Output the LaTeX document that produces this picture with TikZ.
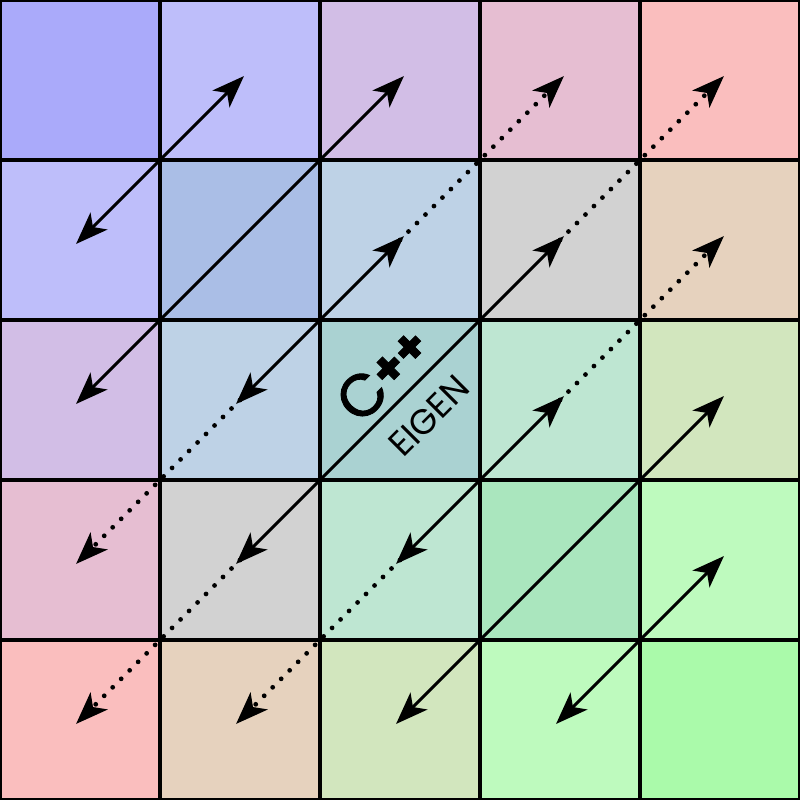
\documentclass[tikz,border=0pt]{standalone}
\usepackage{fontspec}
\usetikzlibrary{arrows.meta}
\newfontfamily\cppfont[FakeBold=1.6]{Poppins}
\newfontfamily\eigfont{Poppins}
\tikzset{
  cell/.style={draw=black, line width=1.7pt, minimum size=2cm, inner sep=0pt, outer sep=0pt},
  tipa/.tip={Stealth[length=11.5pt,width=8.5pt,inset=3pt]},
  dbl/.style={line width=1.1pt, tipa-tipa, shorten <=-0.07cm, shorten >=-0.07cm},
  dotline/.style={line width=1.7pt, line cap=round, dash pattern=on 0pt off 0.15cm, -tipa, shorten >=-0.07cm},
  lbl/.style={rotate=45, inner sep=0pt, text=black}
}
\begin{document}
\begin{tikzpicture}[x=0.0125cm, y=-0.0125cm]
\useasboundingbox (0,0) rectangle (800,800);
\foreach \i in {0,...,4}{
  \foreach \j in {0,...,4}{
    \pgfmathtruncatemacro\a{min(\i,\j)}
    \pgfmathtruncatemacro\b{max(\i,\j)}
    \pgfmathtruncatemacro\R{\a==\b ? 170 : 170+20*(\b-\a)}
    \pgfmathtruncatemacro\G{\a==\b ? 170+20*\a : 190+20*\a}
    \pgfmathtruncatemacro\B{\a==\b ? 250-20*\a : 270-20*\b}
    \definecolor{cc}{RGB}{\R,\G,\B}
    \node[cell, fill=cc] (c-\i-\j) at (80+160*\i, 80+160*\j) {};
  }
}
% solid double arrows
\draw[dbl] (c-0-1.center) -- (c-1-0.center);
\draw[dbl] (c-0-2.center) -- (c-2-0.center);
\draw[dbl] (c-1-2.center) -- (c-2-1.center);
\draw[dbl] (c-1-3.center) -- (c-3-1.center);
\draw[dbl] (c-2-3.center) -- (c-3-2.center);
\draw[dbl] (c-2-4.center) -- (c-4-2.center);
\draw[dbl] (c-3-4.center) -- (c-4-3.center);
% dotted arrows
\draw[dotline] (c-1-2.center) -- (c-0-3.center);
\draw[dotline] (c-2-1.center) -- (c-3-0.center);
\draw[dotline] (c-1-3.center) -- (c-0-4.center);
\draw[dotline] (c-3-1.center) -- (c-4-0.center);
\draw[dotline] (c-2-3.center) -- (c-1-4.center);
\draw[dotline] (c-3-2.center) -- (c-4-1.center);
% labels
\node[lbl] (cpp) at (383,374) {\cppfont\fontsize{21}{21}\selectfont C\bfseries\fontsize{17}{17}\selectfont\raisebox{1.5pt}{++}};
\node[lbl, font=\eigfont\fontsize{12.5}{12.5}\selectfont] (eig) at (429,416) {EIGEN};
\end{tikzpicture}
\end{document}
